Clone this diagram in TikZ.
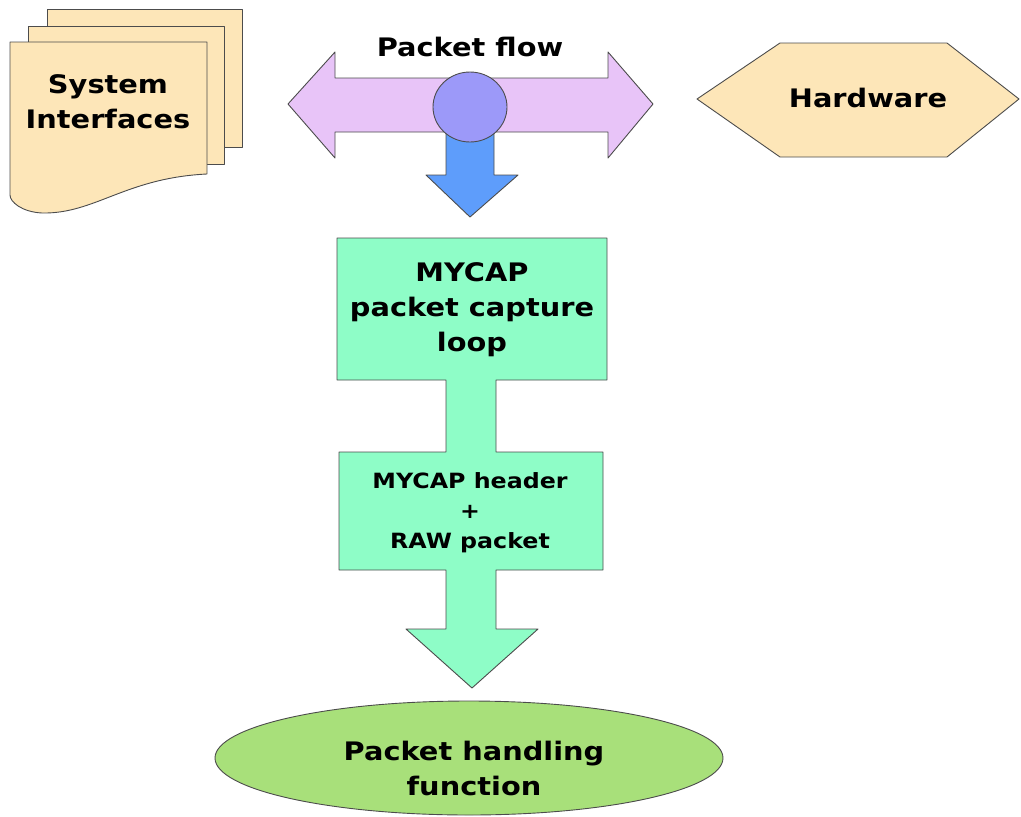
\documentclass[tikz,border=0pt]{standalone}
\usepackage{fontspec}
\setmainfont{DejaVu Sans}[FakeStretch=1.13]
\definecolor{peach}{HTML}{FDE6B8}
\definecolor{lilac}{HTML}{E8C4F8}
\definecolor{bubble}{HTML}{9C99F9}
\definecolor{skyblue}{HTML}{5E9DFB}
\definecolor{mint}{HTML}{8EFDC7}
\definecolor{lime}{HTML}{A8E07A}
\tikzset{
	outl/.style={draw=black!70,line width=0.9pt,line join=round},
	biglbl/.style={align=center,font=\fontsize{25.5}{35}\selectfont\bfseries},
	smalllbl/.style={align=center,font=\fontsize{21}{30}\selectfont\bfseries}
}
\begin{document}
\begin{tikzpicture}[x=1pt,y=-1pt,line join=round,line cap=round]
	\useasboundingbox (0,0) rectangle (1021,817);
	\def\mx{470} % truc giua
	% ve cac trang tai lieu
	\fill[peach,outl] (47,9) rectangle (242,147);
	\fill[peach,outl] (28,26) rectangle (224,164);
	\fill[peach,outl] (10,42)--(207,42)--(207,174)
		.. controls (125,178) and (95,214) .. (42,213)
		.. controls (22,212) and (10,202) .. (10,195)--cycle;
	\node[biglbl] (sysif) at (108,102) {System\\Interfaces};
	% ve mui ten hai chieu
	\fill[lilac,outl] (288,104)--(335,52)--(335,78)--(608,78)--(608,52)--(653,104)
		--(608,158)--(608,132)--(335,132)--(335,158)--cycle;
	\node[biglbl] (flow) at (\mx,47) {Packet flow};
	\fill[skyblue,outl] (446,120)--(494,120)--(494,175)--(518,175)--(\mx,217)
		--(426,175)--(446,175)--cycle;
	\fill[bubble,outl] (\mx,107) ellipse (37 and 35);
	% ve hop phan cung
	\fill[peach,outl] (697,99)--(780,43)--(947,43)--(1019,99)--(947,157)--(780,157)--cycle;
	\node[biglbl] (hw) at (868,98) {Hardware};
	% ve khoi mui ten xanh
	\fill[mint,outl] (337,238)--(607,238)--(607,380)--(496,380)--(496,452)--(603,452)
		--(603,570)--(496,570)--(496,629)--(538,629)--(472,688)--(406,629)--(446,629)
		--(446,570)--(339,570)--(339,452)--(446,452)--(446,380)--(337,380)--cycle;
	\node[biglbl] (loop) at (472,310) {MYCAP\\packet capture\\loop};
	\node[smalllbl] (hdr) at (470,513) {MYCAP header\\+\\RAW packet};
	% ve hinh elip
	\fill[lime,outl] (469,758) ellipse (254 and 57);
	\node[biglbl] (func) at (474,768) {Packet handling\\function};
\end{tikzpicture}
\end{document}
